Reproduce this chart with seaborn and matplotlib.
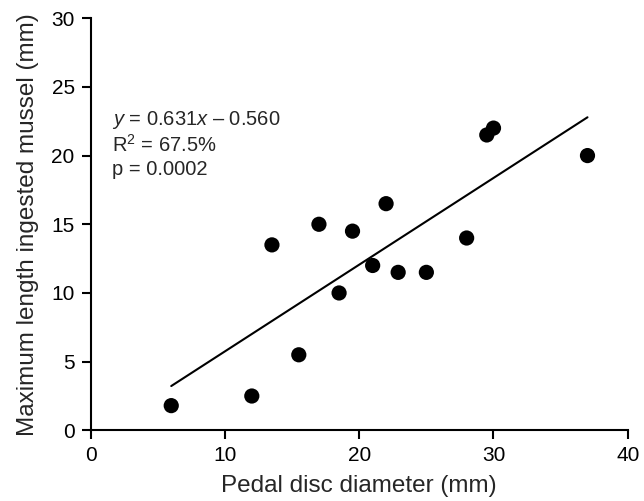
import numpy as np
import pandas as pd
import seaborn as sns
import matplotlib.pyplot as plt

# Data
pedal_disc = [6.0, 12.0, 13.5, 15.5, 17.0, 18.5, 19.5, 21.0, 22.0, 22.9, 25.0, 28.0, 29.5, 30.0, 37.0]
max_mussel = [1.8, 2.5, 13.5, 5.5, 15.0, 10.0, 14.5, 12.0, 16.5, 11.5, 11.5, 14.0, 21.5, 22.0, 20.0]

# Regression reported on the chart
slope = 0.631
intercept = -0.560
r2_text = "67.5%"
p_text = "0.0002"

df = pd.DataFrame({"pedal": pedal_disc, "mussel": max_mussel})
fit_x = np.array([min(pedal_disc), max(pedal_disc)])
fit = pd.DataFrame({"x": fit_x, "y": slope * fit_x + intercept})

sns.set_style("ticks")
plt.rcParams["font.family"] = ["Liberation Sans", "DejaVu Sans"]
plt.rcParams["mathtext.fontset"] = "custom"
plt.rcParams["mathtext.it"] = "Liberation Sans:italic"
plt.rcParams["mathtext.rm"] = "Liberation Sans"

fig = plt.figure(figsize=(6.44, 5.01), dpi=100)
ax = fig.add_axes([0.1408, 0.141, 0.834, 0.8227])

sns.lineplot(data=fit, x="x", y="y", color="black", linewidth=1.5, ax=ax)
sns.scatterplot(data=df, x="pedal", y="mussel", color="black", s=120,
                edgecolor="none", ax=ax, zorder=3)

ax.set_xlim(0, 40)
ax.set_ylim(0, 30)
ax.set_xticks([0, 10, 20, 30, 40])
ax.set_yticks([0, 5, 10, 15, 20, 25, 30])
ax.tick_params(axis="both", direction="out", length=6.5, width=1.5,
               labelsize=15, colors="black", pad=5)
for side in ["left", "bottom"]:
    ax.spines[side].set_linewidth(1.5)
    ax.spines[side].set_color("black")
sns.despine(ax=ax)

ax.set_xlabel("Pedal disc diameter (mm)", fontsize=17.5, labelpad=7)
ax.set_ylabel("Maximum length ingested mussel (mm)", fontsize=17.5, labelpad=9)

ax.text(1.6, 22.6, r"$\it{y}$ = 0.631$\it{x}$ – 0.560", fontsize=14.5, va="center")
ax.text(1.6, 20.8, r"R$^2$ = " + r2_text, fontsize=14.5, va="center")
ax.text(1.6, 19.0, "p = " + p_text, fontsize=14.5, va="center")

fig.savefig("out.png", dpi=100)
